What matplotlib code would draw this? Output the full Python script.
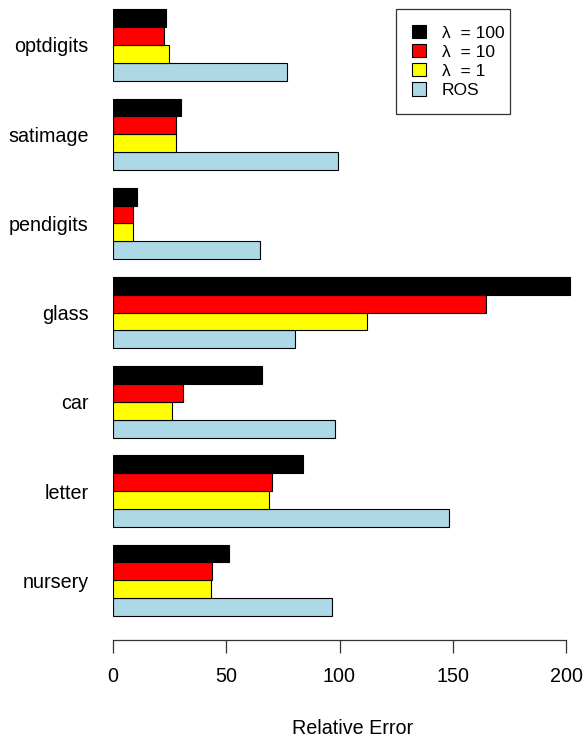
import numpy as np
import matplotlib.pyplot as plt
from matplotlib.patches import Patch

# datasets, bottom to top as R's barplot draws them
datasets = ['nursery', 'letter', 'car', 'glass', 'pendigits', 'satimage', 'optdigits']
ros = [96.7, 148.4, 98, 80.5, 65, 99.2, 77]
lam1 = [43.5, 69.1, 26, 112, 9, 28, 25]
lam10 = [43.8, 70.4, 31, 164.7, 9, 27.7, 22.5]
lam100 = [51.2, 83.9, 66, 201.8, 10.5, 30.2, 23.5]

series = [ros, lam1, lam10, lam100]
colors = ['lightblue', 'yellow', 'red', 'black']
names = ['ROS', 'λ  = 1', 'λ  = 10', 'λ  = 100']

plt.rcParams['font.family'] = ['Liberation Sans', 'DejaVu Sans']

W, H = 584, 738
fig = plt.figure(figsize=(W / 100, H / 100), dpi=100)
ax = fig.add_axes([112.7 / W, 1 - 640 / H, (W - 112.7) / W, 640 / H])

# R style beside=TRUE, space=c(0,1): each group 4 bars wide, 1 unit gap
n = len(datasets)
base = 1 + 5 * np.arange(n)
for j, vals in enumerate(series):
    ax.barh(base + j + 0.5, vals, height=1, color=colors[j],
            edgecolor='black', linewidth=0.8)

ax.set_xlim(0, (W - 112.7) / 2.268)
ax.set_ylim(-0.345, 35.52)

ax.set_yticks(base + 2)
ax.set_yticklabels(datasets, fontsize=14.2)
ax.tick_params(axis='y', length=0, pad=17.3)

ax.set_xticks([0, 50, 100, 150, 200])
ax.tick_params(axis='x', length=9.1, width=0.9, pad=10.5, labelsize=14.2,
               color='#333333')

for s in ['top', 'right', 'left']:
    ax.spines[s].set_visible(False)
ax.spines['bottom'].set_bounds(0, 200)
ax.spines['bottom'].set_linewidth(0.9)
ax.spines['bottom'].set_color('#333333')

fig.text(352.6 / W, 1 - 729 / H, 'Relative Error', ha='center', va='center',
         fontsize=14.2)

handles = [Patch(facecolor=colors[j], edgecolor='black', linewidth=0.8)
           for j in range(3, -1, -1)]
labels = [names[j] for j in range(3, -1, -1)]
leg = ax.legend(handles, labels, loc='upper left',
                bbox_to_anchor=(396 / W, 1 - 9.3 / H, 114 / W, 0),
                bbox_transform=fig.transFigure, mode='expand',
                fontsize=12.5, frameon=True, fancybox=False,
                borderpad=0.9, labelspacing=0.2, handlelength=0.8,
                handleheight=0.8, handletextpad=0.95, borderaxespad=0)
leg.get_frame().set_edgecolor('black')
leg.get_frame().set_linewidth(0.9)

fig.savefig('out.png', dpi=100)
